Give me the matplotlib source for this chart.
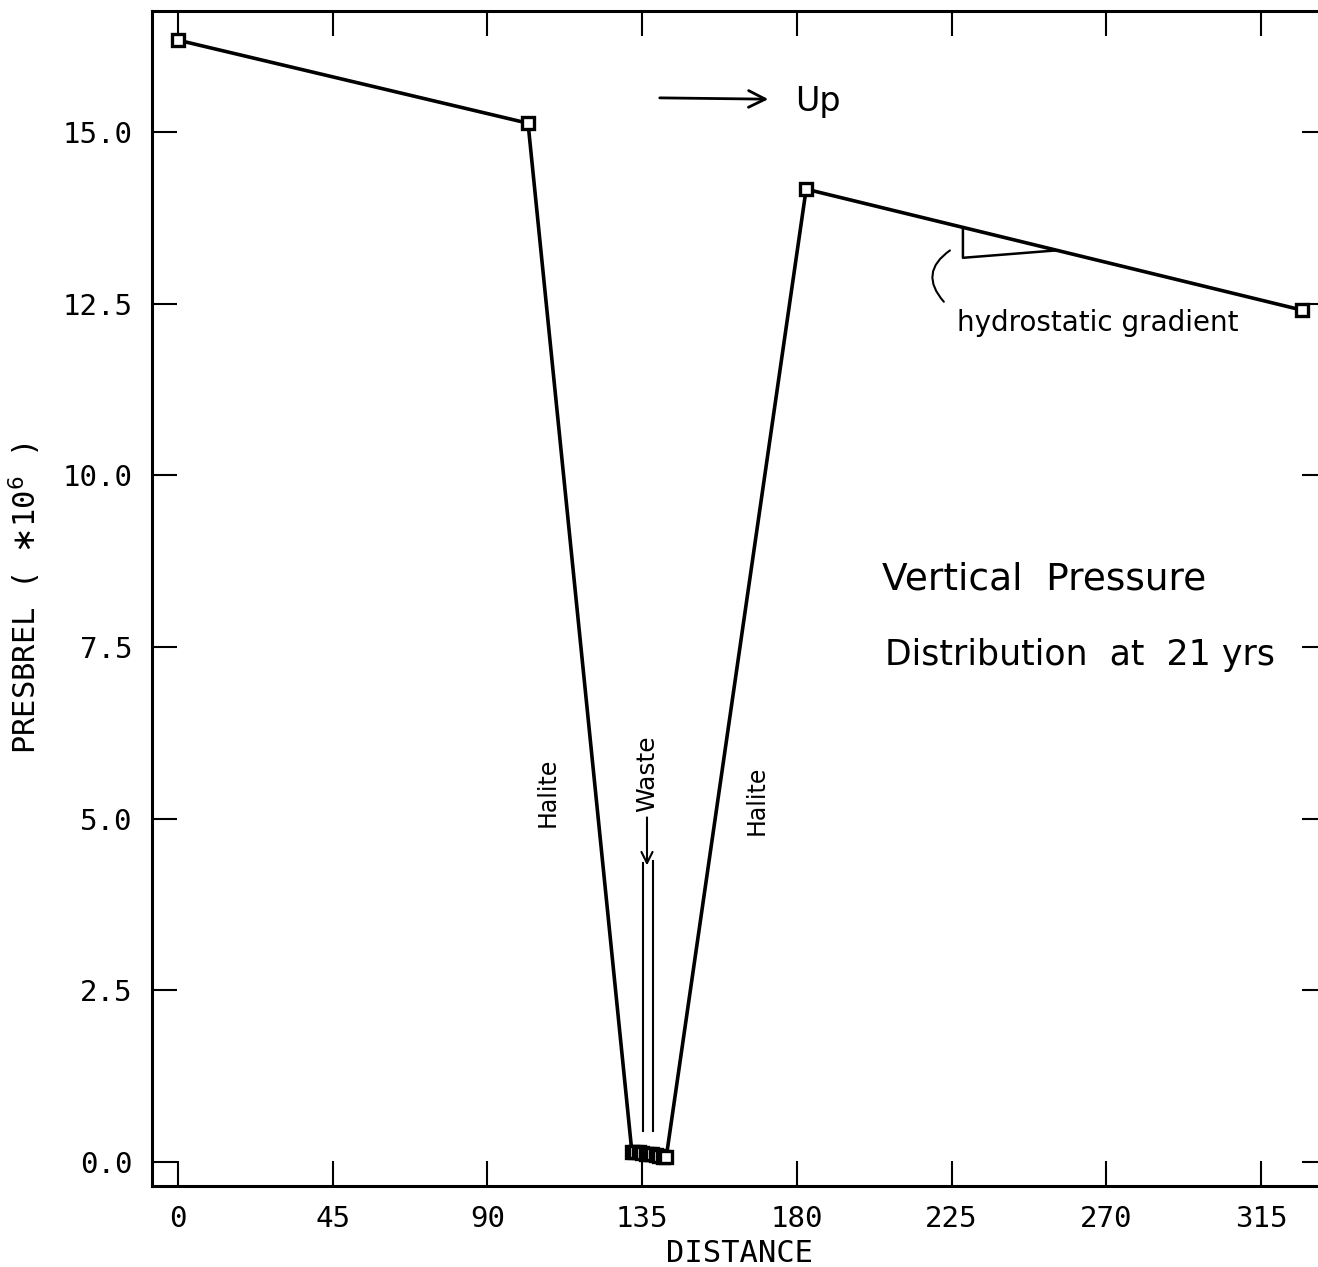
import matplotlib
matplotlib.use("Agg")
import matplotlib.pyplot as plt

# data
distance = [0.0, 101.8, 132.0, 133.0, 134.0, 135.0, 136.0, 137.0, 138.0,
            139.0, 140.0, 141.0, 142.0, 182.7, 326.8]
presbrel = [16.34, 15.13, 0.15, 0.14, 0.14, 0.13, 0.12, 0.12, 0.11,
            0.10, 0.09, 0.08, 0.07, 14.17, 12.41]

xticks = [0, 45, 90, 135, 180, 225, 270, 315]
yticks = [0.0, 2.5, 5.0, 7.5, 10.0, 12.5, 15.0]

mono = "DejaVu Sans Mono"
hand = "DejaVu Sans"

fig = plt.figure(figsize=(13.18, 12.67), dpi=100)
ax = fig.add_axes([0.1153, 0.0639, 0.8915, 0.9277])

ax.plot(distance, presbrel, color="black", linewidth=2.6, marker="s",
        markersize=8, markerfacecolor="white", markeredgecolor="black",
        markeredgewidth=2.4)

ax.set_xlim(-7.6, 334.2)
ax.set_ylim(-0.35, 16.77)
ax.set_xticks(xticks)
ax.set_yticks(yticks)
ax.set_xticklabels([str(t) for t in xticks], family=mono, fontsize=21)
ax.set_yticklabels(["%.1f" % t for t in yticks], family=mono, fontsize=21)
ax.tick_params(direction="in", length=18, width=1.5, top=True, right=True,
               pad=14)
for s in ax.spines.values():
    s.set_linewidth(2.2)

ax.set_xlabel("DISTANCE", family=mono, fontsize=22, labelpad=4)
ax.set_ylabel("PRESBREL ( $\\ast$10$^{6}$ )", family=mono, fontsize=22,
              labelpad=14)

# hand-written notes
ax.annotate("", xy=(172.5, 15.48), xytext=(139.3, 15.5),
            arrowprops=dict(arrowstyle="->", lw=2, mutation_scale=30))
ax.text(179.5, 15.45, "Up", family=hand, fontsize=24, va="center")

ax.text(204.8, 8.48, "Vertical  Pressure", family=hand, fontsize=27,
        va="center")
ax.text(205.5, 7.38, "Distribution  at  21 yrs", family=hand, fontsize=25,
        va="center")

ax.text(107.6, 5.39, "Halite", family=hand, fontsize=17, rotation=90,
        ha="center", va="center")
ax.text(168.4, 5.27, "Halite", family=hand, fontsize=17, rotation=90,
        ha="center", va="center")
ax.annotate("Waste", xy=(136.4, 4.28), xytext=(136.4, 5.1), family=hand,
            fontsize=18, rotation=90, ha="center", va="bottom",
            arrowprops=dict(arrowstyle="->", lw=1.5, mutation_scale=20))
ax.plot([135.3, 135.3], [4.35, 0.45], color="black", linewidth=1.5)
ax.plot([138.2, 138.2], [4.38, 0.45], color="black", linewidth=1.5)

# gradient triangle
ax.plot([228.3, 228.3, 256.0], [13.61, 13.17, 13.28], color="black",
        linewidth=1.8)
ax.annotate("", xy=(225.2, 13.3), xytext=(223.3, 12.5),
            arrowprops=dict(arrowstyle="-", lw=1.5,
                            connectionstyle="arc3,rad=-0.6"))
ax.text(226.5, 12.22, "hydrostatic gradient", family=hand, fontsize=20,
        va="center")

fig.savefig("out.png", dpi=100)
